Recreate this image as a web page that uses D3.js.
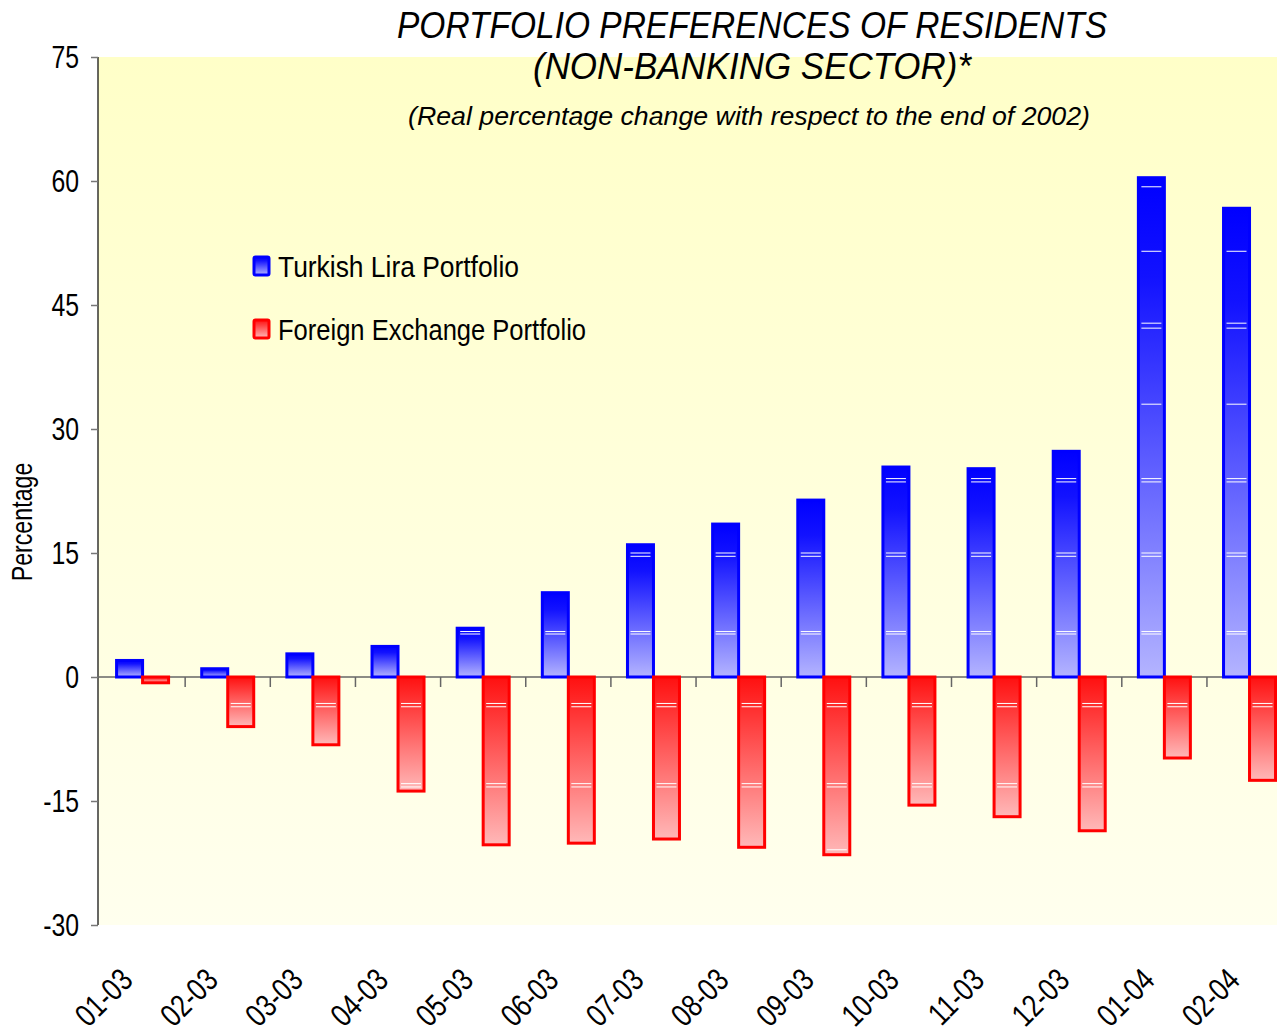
<!DOCTYPE html>
<html>
<head>
<meta charset="utf-8">
<script src="https://cdn.jsdelivr.net/npm/d3@7"></script>
<style>
  body { margin: 0; background: #fff; }
  text { font-family: "Liberation Sans", Arial, sans-serif; }
</style>
</head>
<body>
<svg width="1277" height="1036"></svg>
<script>
var months = ["01-03","02-03","03-03","04-03","05-03","06-03","07-03","08-03","09-03","10-03","11-03","12-03","01-04","02-04"];
var tlPortfolio = [2.0, 1.0, 2.8, 3.7, 5.9, 10.2, 16.0, 18.5, 21.4, 25.4, 25.2, 27.3, 60.4, 56.7];
var fxPortfolio = [-0.7, -6.0, -8.2, -13.8, -20.3, -20.1, -19.6, -20.6, -21.5, -15.5, -16.9, -18.6, -9.8, -12.5];
var yTicks = [75, 60, 45, 30, 15, 0, -15, -30];
// white streaks that show through the bar fills
var tlStreaks = [5.2, 5.5, 14.6, 15.0, 23.6, 24.0, 33.0, 42.2, 42.8, 51.5, 59.3];
var fxStreaks = [-3.2, -3.6, -12.9, -13.3, -20.9, -21.3];

var svg = d3.select("svg"),
    plotL = 98, plotT = 57, plotB = 925, plotR = 1292;

var defs = svg.append("defs");
function vgrad(id, stops) {
  var gr = defs.append("linearGradient").attr("id", id)
      .attr("x1", 0).attr("y1", 0).attr("x2", 0).attr("y2", 1);
  stops.forEach(function(s) { gr.append("stop").attr("offset", s[0]).attr("stop-color", s[1]); });
}
vgrad("bg", [[0, "#ffffc8"], [1, "#ffffee"]]);
vgrad("blue", [[0, "#0000ff"], [0.2, "#1212ff"], [1, "#b4b4ff"]]);
vgrad("red", [[0, "#ff1010"], [1, "#ffb8b8"]]);

var x = d3.scaleBand().domain(months).range([plotL + 2, plotL + 2 + 85.15 * 14]).paddingInner(0).paddingOuter(0);
var y = d3.scaleLinear().domain([-30, 75]).range([plotB, plotT]);
var barW = 26;

svg.append("rect").attr("x", plotL).attr("y", y(75)).attr("width", plotR - plotL).attr("height", y(-30) - y(75))
    .attr("fill", "url(#bg)");

// y axis
var yAxis = svg.append("g").attr("transform", "translate(" + plotL + ",0)")
    .call(d3.axisLeft(y).tickValues(yTicks).tickSize(7).tickPadding(12).tickFormat(function(d) { return String(d); }));
yAxis.select(".domain").attr("stroke", "#000").attr("stroke-width", 1.2).attr("d", "M0," + y(75) + "V" + y(-30));
yAxis.selectAll(".tick line").attr("stroke", "#777").attr("stroke-width", 1.5);
yAxis.selectAll(".tick text").attr("font-size", 31).attr("fill", "#000").attr("dy", "0.35em")
    .style("font-family", "'Liberation Sans', Arial, sans-serif").attr("class", "narrow");

// zero line with category ticks
var zero = svg.append("g");
zero.append("line").attr("x1", plotL).attr("x2", plotR).attr("y1", y(0)).attr("y2", y(0))
    .attr("stroke", "#666").attr("stroke-width", 1.5);
zero.selectAll(".ztick").data(months.slice(1)).enter().append("line")
    .attr("x1", function(d) { return x(d); }).attr("x2", function(d) { return x(d); })
    .attr("y1", y(0)).attr("y2", y(0) + 10).attr("stroke", "#666").attr("stroke-width", 1.5);

function drawBars(vals, off, fill, stroke, streaks) {
  var g = svg.append("g");
  vals.forEach(function(v, i) {
    var cx = x(months[i]) + x.bandwidth() / 2 + off;
    var y0 = Math.min(y(v), y(0)), h = Math.abs(y(v) - y(0));
    g.append("rect").attr("x", cx).attr("y", y0).attr("width", barW).attr("height", h)
        .attr("fill", fill).attr("stroke", stroke).attr("stroke-width", 3);
    streaks.forEach(function(s) {
      if ((v > 0 && s < v - 0.3) || (v < 0 && s > v + 0.3)) {
        g.append("line").attr("x1", cx + 3).attr("x2", cx + barW - 3)
            .attr("y1", y(s)).attr("y2", y(s)).attr("stroke", "#fff").attr("stroke-width", 1);
      }
    });
  });
}
drawBars(tlPortfolio, -barW, "url(#blue)", "#0000ff", tlStreaks);
drawBars(fxPortfolio, 0, "url(#red)", "#ff0000", fxStreaks);

// x labels
svg.append("g").selectAll("text").data(months).enter().append("text")
    .attr("class", "narrow")
    .attr("transform", function(d) { return "translate(" + (x(d) + x.bandwidth() / 2 - 8) + ",982) rotate(-45)"; })
    .attr("text-anchor", "end").attr("font-size", 32).text(function(d) { return d; });

// y label
svg.append("text").attr("class", "narrow").attr("transform", "translate(32,522) rotate(-90)")
    .attr("text-anchor", "middle").attr("font-size", 29).text("Percentage");

// titles
svg.append("text").attr("x", 752).attr("y", 38).attr("text-anchor", "middle").attr("font-size", 37)
    .attr("font-style", "italic").attr("textLength", 710).attr("lengthAdjust", "spacingAndGlyphs")
    .text("PORTFOLIO PREFERENCES OF RESIDENTS");
svg.append("text").attr("x", 752).attr("y", 79).attr("text-anchor", "middle").attr("font-size", 37)
    .attr("font-style", "italic").attr("textLength", 438).attr("lengthAdjust", "spacingAndGlyphs")
    .text("(NON-BANKING SECTOR)*");
svg.append("text").attr("x", 749).attr("y", 125).attr("text-anchor", "middle").attr("font-size", 25)
    .attr("font-style", "italic").attr("textLength", 682).attr("lengthAdjust", "spacingAndGlyphs")
    .text("(Real percentage change with respect to the end of 2002)");

// legend
var legend = [["Turkish Lira Portfolio", "url(#blue)", "#0000ff", 266, 241],
              ["Foreign Exchange Portfolio", "url(#red)", "#ff0000", 329, 308]];
legend.forEach(function(l) {
  svg.append("rect").attr("x", 254).attr("y", l[3] - 9).attr("width", 15).attr("height", 18)
      .attr("fill", l[1]).attr("stroke", l[2]).attr("stroke-width", 3).attr("rx", 1.5);
  svg.append("text").attr("x", 278).attr("y", l[3] + 11).attr("font-size", 30)
      .attr("textLength", l[4]).attr("lengthAdjust", "spacingAndGlyphs").text(l[0]);
});

// squeeze the remaining labels to a narrow face
svg.selectAll("text.narrow").each(function() {
  var w = this.getComputedTextLength();
  d3.select(this).attr("textLength", w * 0.8).attr("lengthAdjust", "spacingAndGlyphs");
});
</script>
</body>
</html>
